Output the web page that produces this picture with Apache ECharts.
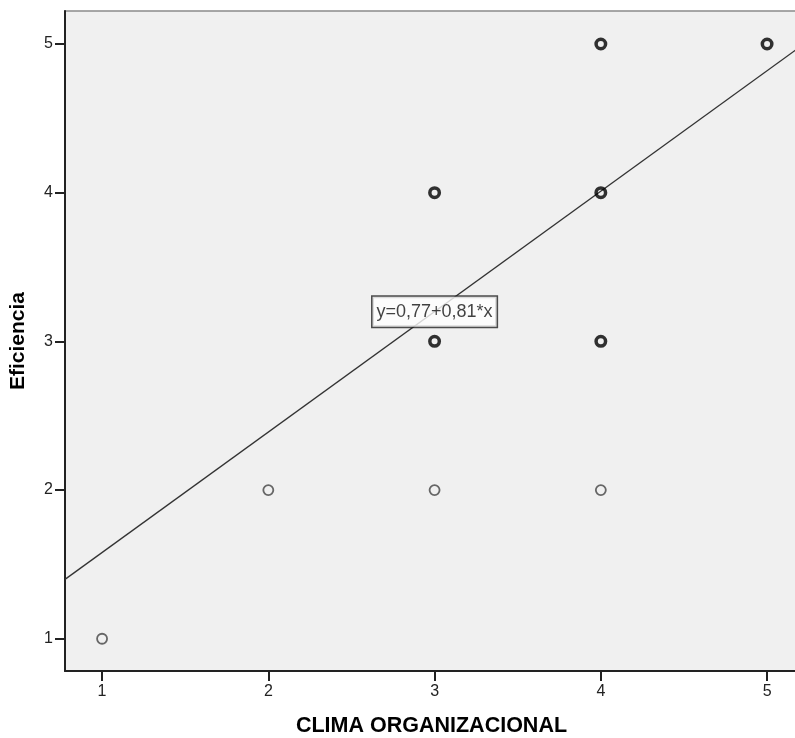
<!DOCTYPE html>
<html><head><meta charset="utf-8">
<script src="https://cdn.jsdelivr.net/npm/echarts@6/dist/echarts.min.js"></script>
<style>html,body{margin:0;padding:0;background:#fff}#c{width:795px;height:738px}</style>
</head><body><div id="c"></div>
<script>
// Data
const climaX = [1, 2, 3, 4, 3, 4, 3, 4, 4, 5];
const eficienciaY = [1, 2, 2, 2, 3, 3, 4, 4, 5, 5];
const overlapCount = [1, 1, 1, 1, 3, 3, 3, 4, 2, 2];
const intercept = 0.77;
const slope = 0.81;
const xTicks = [1, 2, 3, 4, 5];
const yTicks = [1, 2, 3, 4, 5];
const fitLabel = 'y=0,77+0,81*x';

const xMin = 0.777, xMax = 5.186, yMin = 0.783, yMax = 5.222;

const single = [], multi = [];
climaX.forEach((x, i) => {
  (overlapCount[i] > 1 ? multi : single).push([x, eficienciaY[i]]);
});
const fitLine = [[xMin, intercept + slope * xMin], [xMax, intercept + slope * xMax]];
const labelX = 3;

const chart = echarts.init(document.getElementById('c'));
chart.setOption({
  animation: false,
  textStyle: { fontFamily: 'Liberation Sans, Arial, sans-serif' },
  grid: { left: 65, top: 11, right: -3, bottom: 67, containLabel: false, outerBoundsMode: 'none',
    show: true, backgroundColor: '#F0F0F0', borderColor: '#8a8a8a', borderWidth: 1.5 },
  xAxis: {
    type: 'value', min: xMin, max: xMax,
    name: 'CLIMA ORGANIZACIONAL', nameLocation: 'middle', nameGap: 44,
    nameTextStyle: { fontSize: 21.5, fontWeight: 'bold', color: '#000' },
    axisLine: { show: true, onZero: false, lineStyle: { color: '#222', width: 2 } },
    axisTick: { show: true, customValues: xTicks, length: 10, lineStyle: { color: '#222', width: 2 } },
    axisLabel: { customValues: xTicks, color: '#222', fontSize: 16, margin: 13 },
    splitLine: { show: false }
  },
  yAxis: {
    type: 'value', min: yMin, max: yMax,
    name: 'Eficiencia', nameLocation: 'middle', nameGap: 36, nameRotate: 90,
    nameTextStyle: { fontSize: 21, fontWeight: 'bold', color: '#000' },
    axisLine: { show: true, onZero: false, lineStyle: { color: '#222', width: 2 } },
    axisTick: { show: true, customValues: yTicks, length: 10, lineStyle: { color: '#222', width: 2 } },
    axisLabel: { customValues: yTicks, color: '#222', fontSize: 16, margin: 12 },
    splitLine: { show: false }
  },
  series: [
    { type: 'line', data: fitLine, symbol: 'none', lineStyle: { color: '#333', width: 1.3 }, silent: true, z: 2 },
    { type: 'scatter', data: single, symbol: 'circle', symbolSize: 10,
      itemStyle: { color: 'rgba(0,0,0,0)', borderColor: '#444', borderWidth: 1.8 }, z: 3 },
    { type: 'scatter', data: multi, symbol: 'circle', symbolSize: 9.5,
      itemStyle: { color: 'rgba(0,0,0,0)', borderColor: '#000', borderWidth: 3.5 }, z: 3 },
    { type: 'scatter', data: [[labelX, intercept + slope * labelX]], symbolSize: 0, z: 5,
      label: { show: true, position: 'inside', formatter: fitLabel, color: '#111', fontSize: 18,
        backgroundColor: '#fff', borderColor: '#222', borderWidth: 1.5, padding: [6, 4, 6, 4] } }
  ]
});
</script></body></html>
